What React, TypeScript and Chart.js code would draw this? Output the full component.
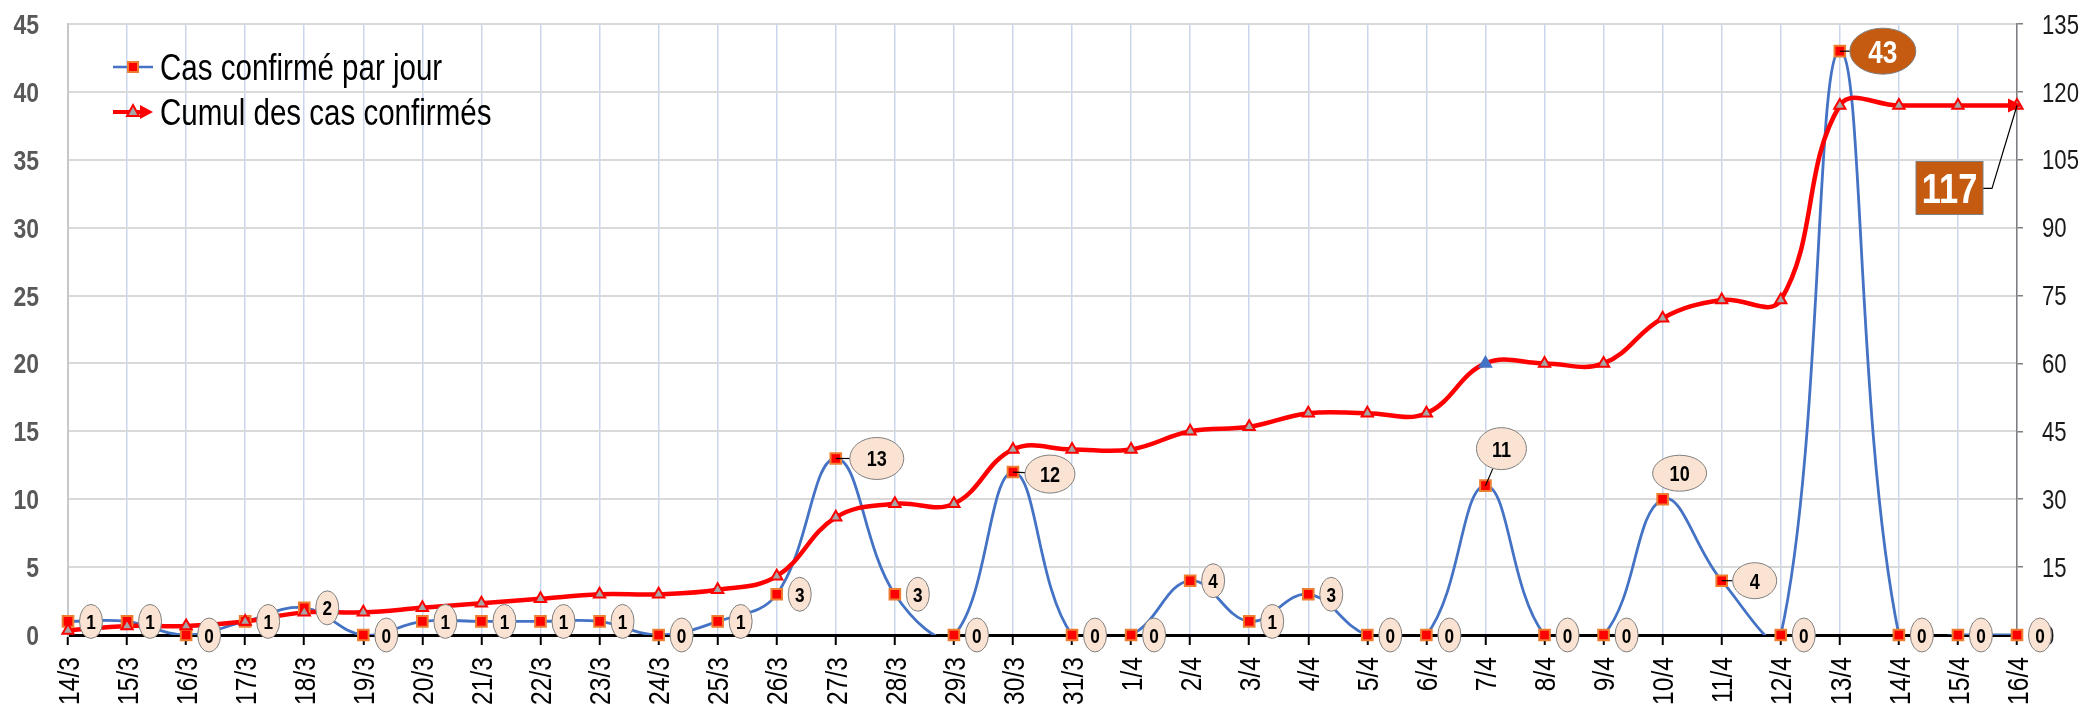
import React, { useEffect, useRef } from 'react';
import { Chart, registerables } from 'chart.js';

Chart.register(...registerables);

// ---------- DATA ----------
const categories = [
  '14/3', '15/3', '16/3', '17/3', '18/3', '19/3', '20/3', '21/3', '22/3', '23/3', '24/3', '25/3',
  '26/3', '27/3', '28/3', '29/3', '30/3', '31/3', '1/4', '2/4', '3/4', '4/4', '5/4', '6/4',
  '7/4', '8/4', '9/4', '10/4', '11/4', '12/4', '13/4', '14/4', '15/4', '16/4',
];
const dailyCases = [
  1, 1, 0, 1, 2, 0, 1, 1, 1, 1, 0, 1, 3, 13, 3, 0, 12, 0,
  0, 4, 1, 3, 0, 0, 11, 0, 0, 10, 4, 0, 43, 0, 0, 0,
];
const cumulativeCases = [
  1, 2, 2, 3, 5, 5, 6, 7, 8, 9, 9, 10, 13, 26, 29, 29, 41, 41,
  41, 45, 46, 49, 49, 49, 60, 60, 60, 70, 74, 74, 117, 117, 117, 117,
];
const seriesNames = ['Cas confirmé par jour', 'Cumul des cas confirmés'];
const leftAxis = { min: 0, max: 45, step: 5 };
const rightAxis = { min: 0, max: 135, step: 15 };

// ---------- STYLES ----------
const FONT = '"Liberation Sans", Arial, sans-serif';
const SQUEEZE = 0.82; // emulate a narrow face
const BLUE = '#4472C4';
const RED = '#FF0000';
const BROWN = '#C55A11';
const PEACH = '#FAE3D2';

function narrowText(
  ctx: CanvasRenderingContext2D, text: string, x: number, y: number, size: number,
  weight: string, color: string, align: CanvasTextAlign, rotate = false,
) {
  ctx.save();
  ctx.font = `${weight} ${size}px ${FONT}`;
  ctx.fillStyle = color;
  ctx.textAlign = align;
  ctx.textBaseline = 'alphabetic';
  ctx.translate(x, y);
  if (rotate) ctx.rotate(-Math.PI / 2);
  ctx.scale(SQUEEZE, 1);
  ctx.fillText(text, 0, size * 0.358);
  ctx.restore();
}

type LabelStyle = {
  dx: number; dy: number; rx: number; ry: number; size: number;
  fill: string; color: string; leader: boolean;
};
const defaultLabel: LabelStyle = { dx: 23, dy: 0, rx: 11.5, ry: 17, size: 21, fill: PEACH, color: '#000', leader: false };
const labelOverrides: Record<number, Partial<LabelStyle>> = {
  13: { dx: 41, dy: 0, rx: 27, ry: 21, size: 22, leader: true },
  16: { dx: 37, dy: 2, rx: 25, ry: 19, size: 22, leader: true },
  24: { dx: 16, dy: -37, rx: 25, ry: 21, size: 22, leader: true },
  27: { dx: 17, dy: -26, rx: 27, ry: 18, size: 22 },
  28: { dx: 33, dy: 0, rx: 22, ry: 18, size: 22, leader: true },
  30: { dx: 43, dy: 0, rx: 33, ry: 23, size: 32, fill: BROWN, color: '#fff', leader: true },
};

const tickLabelPlugin = {
  id: 'tickLabels',
  beforeDatasetsDraw(chart: any) {
    const ctx: CanvasRenderingContext2D = chart.ctx;
    const { x, y, y1 } = chart.scales;
    y.ticks.forEach((t: any) => {
      narrowText(ctx, String(t.label), y.right - 29, y.getPixelForValue(t.value), 28, 'bold', '#595959', 'right');
    });
    y1.ticks.forEach((t: any) => {
      narrowText(ctx, String(t.label), y1.left + 25, y1.getPixelForValue(t.value), 27, 'normal', '#1A1A1A', 'left');
    });
    x.ticks.forEach((t: any, i: number) => {
      narrowText(ctx, String(t.label), x.getPixelForTick(i), x.top + 22, 30, 'normal', '#000', 'right', true);
    });
  },
};

const annotPlugin = {
  id: 'annot',
  afterDatasetsDraw(chart: any) {
    const ctx: CanvasRenderingContext2D = chart.ctx;
    const dailyMeta = chart.getDatasetMeta(2);
    const cumMeta = chart.getDatasetMeta(3);
    ctx.save();

    // arrow head at the end of the cumulative line
    const lastIdx = cumulativeCases.length - 1;
    const lp = cumMeta.data[lastIdx];
    ctx.fillStyle = RED;
    ctx.beginPath();
    ctx.moveTo(lp.x + 5, lp.y);
    ctx.lineTo(lp.x - 9, lp.y - 7);
    ctx.lineTo(lp.x - 9, lp.y + 7);
    ctx.closePath();
    ctx.fill();

    // daily data labels
    dailyCases.forEach((v, i) => {
      const p = dailyMeta.data[i];
      if (!p) return;
      const st: LabelStyle = { ...defaultLabel, ...(labelOverrides[i] || {}) };
      const cx = p.x + st.dx;
      const cy = p.y + st.dy;
      if (st.leader) {
        const vx = p.x - cx;
        const vy = p.y - cy;
        const t = 1 / Math.sqrt((vx / st.rx) ** 2 + (vy / st.ry) ** 2);
        ctx.beginPath();
        ctx.moveTo(p.x, p.y);
        ctx.lineTo(cx + vx * t, cy + vy * t);
        ctx.strokeStyle = '#000';
        ctx.lineWidth = 1.2;
        ctx.stroke();
      }
      ctx.beginPath();
      ctx.ellipse(cx, cy, st.rx, st.ry, 0, 0, Math.PI * 2);
      ctx.fillStyle = st.fill;
      ctx.fill();
      ctx.lineWidth = 1;
      ctx.strokeStyle = '#7F7F7F';
      ctx.stroke();
      narrowText(ctx, String(v), cx, cy, st.size, 'bold', st.color, 'center');
    });

    // total box for the cumulative series
    const bx = lp.x - 101;
    const by = lp.y + 56;
    const bw = 67;
    const bh = 53;
    ctx.beginPath();
    ctx.moveTo(lp.x, lp.y);
    ctx.lineTo(lp.x - 25, lp.y + 83);
    ctx.lineTo(bx + bw, lp.y + 83);
    ctx.strokeStyle = '#000';
    ctx.lineWidth = 1.2;
    ctx.stroke();
    ctx.fillStyle = BROWN;
    ctx.fillRect(bx, by, bw, bh);
    ctx.strokeStyle = '#7F7F7F';
    ctx.lineWidth = 1;
    ctx.strokeRect(bx, by, bw, bh);
    narrowText(ctx, String(cumulativeCases[lastIdx]), bx + bw / 2, by + bh / 2, 42, 'bold', '#fff', 'center');

    // legend
    const lx0 = 113, lx1 = 153, tx = 160;
    const ly1 = 67, ly2 = 112;
    ctx.beginPath();
    ctx.moveTo(lx0, ly1);
    ctx.lineTo(lx1, ly1);
    ctx.strokeStyle = BLUE;
    ctx.lineWidth = 2.5;
    ctx.stroke();
    ctx.fillStyle = RED;
    ctx.fillRect(133 - 5, ly1 - 5, 10, 10);
    ctx.strokeStyle = '#ED7D31';
    ctx.lineWidth = 2;
    ctx.strokeRect(133 - 5, ly1 - 5, 10, 10);

    ctx.beginPath();
    ctx.moveTo(lx0, ly2);
    ctx.lineTo(lx1 - 8, ly2);
    ctx.strokeStyle = RED;
    ctx.lineWidth = 4;
    ctx.stroke();
    ctx.beginPath();
    ctx.moveTo(lx1, ly2);
    ctx.lineTo(lx1 - 13, ly2 - 7);
    ctx.lineTo(lx1 - 13, ly2 + 7);
    ctx.closePath();
    ctx.fillStyle = RED;
    ctx.fill();
    ctx.beginPath();
    ctx.moveTo(133, ly2 - 7);
    ctx.lineTo(139, ly2 + 4);
    ctx.lineTo(127, ly2 + 4);
    ctx.closePath();
    ctx.fillStyle = '#A6A6A6';
    ctx.fill();
    ctx.strokeStyle = RED;
    ctx.lineWidth = 2;
    ctx.stroke();

    narrowText(ctx, seriesNames[0], tx, ly1, 36, 'normal', '#000', 'left');
    narrowText(ctx, seriesNames[1], tx, ly2, 36, 'normal', '#000', 'left');

    ctx.restore();
  },
};

export default function App() {
  const ref = useRef<HTMLCanvasElement>(null);

  useEffect(() => {
    document.body.style.margin = '0';
    const canvas = ref.current;
    if (!canvas) return;
    const lineClip: any = { left: false, top: false, right: false, bottom: 0 };
    const chart = new Chart(canvas, {
      type: 'line',
      data: {
        labels: categories,
        datasets: [
          {
            label: seriesNames[0], data: dailyCases, yAxisID: 'y',
            borderColor: BLUE, borderWidth: 2.8, pointRadius: 0, tension: 0.4,
            order: 4, clip: lineClip, fill: false,
          },
          {
            label: seriesNames[1], data: cumulativeCases, yAxisID: 'y1',
            borderColor: RED, borderWidth: 4.5, pointRadius: 0, tension: 0.4,
            order: 3, clip: lineClip, fill: false,
          },
          {
            label: seriesNames[0], data: dailyCases, yAxisID: 'y', showLine: false,
            pointStyle: 'rect', pointRadius: 7.5, pointBackgroundColor: RED,
            pointBorderColor: '#ED7D31', pointBorderWidth: 2, order: 2, clip: false as any,
          },
          {
            label: seriesNames[1], data: cumulativeCases, yAxisID: 'y1', showLine: false,
            pointStyle: 'triangle', pointRadius: 6.5,
            pointBackgroundColor: (c: any) => (c.dataIndex === 24 ? BLUE : '#A6A6A6'),
            pointBorderColor: (c: any) => (c.dataIndex === 24 ? BLUE : RED),
            pointBorderWidth: 2, order: 1, clip: false as any,
          },
        ],
      },
      options: {
        responsive: false,
        animation: false,
        events: [],
        layout: { padding: { top: 24, left: 0, right: 0, bottom: 0 } },
        elements: { line: { capBezierPoints: false } },
        plugins: { legend: { display: false }, tooltip: { enabled: false } },
        scales: {
          x: {
            offset: false,
            grid: {
              color: '#C9D6EE', lineWidth: 1.5, tickColor: '#000', tickWidth: 2,
              tickLength: 10, drawOnChartArea: true,
            },
            border: { display: true, color: '#000', width: 3 },
            ticks: { autoSkip: false, display: false },
            afterFit: (s: any) => { s.height = 78; },
          },
          y: {
            position: 'left', min: leftAxis.min, max: leftAxis.max,
            ticks: { stepSize: leftAxis.step, display: false },
            grid: {
              color: (c: any) => (c.tick && c.tick.value === 0 ? '#000' : '#D9D9D9'),
              lineWidth: (c: any) => (c.tick && c.tick.value === 0 ? 3 : 2),
              drawTicks: false,
            },
            border: { display: true, color: '#C8C8C8', width: 2 },
            afterFit: (s: any) => { s.width = 68; },
          },
          y1: {
            position: 'right', min: rightAxis.min, max: rightAxis.max,
            ticks: { stepSize: rightAxis.step, display: false },
            grid: {
              drawOnChartArea: false, drawTicks: true, tickLength: 6,
              color: '#7F7F7F', lineWidth: 1.5,
            },
            border: { display: true, color: '#7F7F7F', width: 1.5 },
            afterFit: (s: any) => { s.width = 68; },
          },
        },
      } as any,
      plugins: [tickLabelPlugin, annotPlugin],
    });
    return () => chart.destroy();
  }, []);

  return (
    <canvas
      ref={ref}
      width={2085}
      height={713}
      style={{ display: 'block', width: 2085, height: 713 }}
    />
  );
}
